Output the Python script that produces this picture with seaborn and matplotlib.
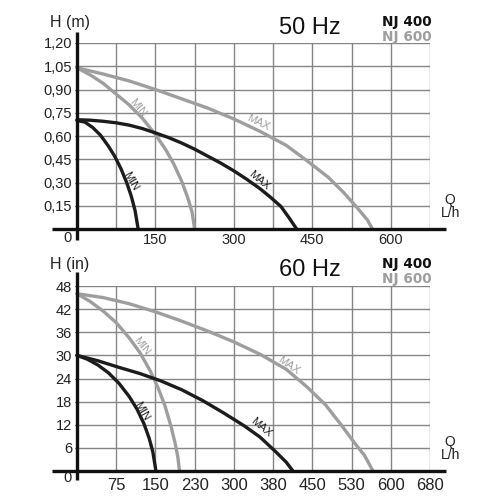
import seaborn as sns
import pandas as pd
import matplotlib
matplotlib.use("Agg")
import matplotlib.pyplot as plt

# ---- data ----
# 50 Hz, head in m
q50_400_min = [0, 15, 30, 45, 60, 72, 84, 95, 104, 111, 117]
h50_400_min = [0.70, 0.69, 0.655, 0.605, 0.535, 0.47, 0.39, 0.30, 0.21, 0.12, 0.0]
q50_400_max = [0, 25, 50, 75, 100, 125, 150, 175, 200, 225, 250, 275, 300,
               325, 350, 370, 390, 405, 420]
h50_400_max = [0.705, 0.702, 0.695, 0.685, 0.67, 0.648, 0.62, 0.59, 0.555,
               0.515, 0.47, 0.425, 0.375, 0.32, 0.26, 0.205, 0.145, 0.075, 0.0]
q50_600_min = [0, 25, 50, 75, 100, 125, 150, 170, 185, 200, 212, 220, 225]
h50_600_min = [1.04, 0.995, 0.94, 0.87, 0.80, 0.715, 0.61, 0.51, 0.42, 0.31,
               0.20, 0.11, 0.0]
q50_600_max = [0, 50, 100, 150, 200, 250, 300, 350, 400, 440, 480, 510, 535,
               555, 565]
h50_600_max = [1.04, 1.0, 0.955, 0.90, 0.84, 0.78, 0.71, 0.63, 0.54, 0.44,
               0.335, 0.235, 0.14, 0.06, 0.0]

# 60 Hz, head in inches
q60_400_min = [0, 20, 40, 60, 80, 100, 115, 128, 138, 145, 151]
h60_400_min = [30, 29.0, 27.5, 25.5, 22.8, 19.3, 16.0, 12.3, 8.5, 5.0, 0]
q60_400_max = [0, 40, 80, 120, 160, 200, 240, 280, 320, 350, 380, 400, 413]
h60_400_max = [30, 28.6, 26.9, 25.3, 23.4, 21.1, 18.3, 15.1, 11.7, 8.8, 5.0,
               2.3, 0]
q60_600_min = [0, 25, 50, 75, 100, 120, 140, 155, 168, 180, 188, 193, 196]
h60_600_min = [46, 44, 41.5, 38.5, 34.5, 30.8, 26, 21.6, 17, 11.5, 7.0, 3.5, 0]
q60_600_max = [0, 50, 100, 150, 200, 250, 300, 350, 400, 440, 475, 505, 530,
               550, 566]
h60_600_max = [46, 45, 43.4, 41.3, 38.9, 36.3, 33.5, 30.3, 26.4, 21.8, 17.2,
               12.0, 7.4, 4.0, 0]

x_grid = [75, 150, 225, 300, 375, 450, 525, 600, 675]
x_labels_50 = ["", "150", "", "300", "", "450", "", "600", ""]
x_labels_60 = ["75", "150", "230", "300", "380", "450", "530", "600", "680"]
y_ticks_50 = [0.15, 0.30, 0.45, 0.60, 0.75, 0.90, 1.05, 1.20]
y_labels_50 = ["0,15", "0,30", "0,45", "0,60", "0,75", "0,90", "1,05", "1,20"]
y_ticks_60 = [6, 12, 18, 24, 30, 36, 42, 48]
y_labels_60 = ["6", "12", "18", "24", "30", "36", "42", "48"]

BLACK = "#1c1c1c"
GRAY = "#9e9e9e"
palette = {"NJ 400 MIN": BLACK, "NJ 400 MAX": BLACK,
           "NJ 600 MIN": GRAY, "NJ 600 MAX": GRAY}


def make_df(parts):
    rows = []
    for name, qs, hs in parts:
        for q, h in zip(qs, hs):
            rows.append({"curve": name, "Q": q, "H": h})
    return pd.DataFrame(rows)


df50 = make_df([("NJ 600 MIN", q50_600_min, h50_600_min),
                ("NJ 600 MAX", q50_600_max, h50_600_max),
                ("NJ 400 MIN", q50_400_min, h50_400_min),
                ("NJ 400 MAX", q50_400_max, h50_400_max)])
df60 = make_df([("NJ 600 MIN", q60_600_min, h60_600_min),
                ("NJ 600 MAX", q60_600_max, h60_600_max),
                ("NJ 400 MIN", q60_400_min, h60_400_min),
                ("NJ 400 MAX", q60_400_max, h60_400_max)])

# curve labels: text, Q, H, angle, colour
labels50 = [("MIN", 117, 0.78, -50, GRAY), ("MAX", 346, 0.69, -26, GRAY),
            ("MIN", 103, 0.31, -60, BLACK), ("MAX", 348, 0.316, -40, BLACK)]
labels60 = [("MIN", 124, 32.4, -52, GRAY), ("MAX", 405, 27.5, -35, GRAY),
            ("MIN", 124, 15.6, -60, BLACK), ("MAX", 352, 11.2, -40, BLACK)]

sns.set_style("white")
plt.rcParams["font.family"] = ["Liberation Sans", "DejaVu Sans"]

fig = plt.figure(figsize=(5, 5), dpi=100)


def px(x, y):
    return x / 500, 1 - y / 500


def panel(ax, df, ytop, yticks, ylabels, xlabels, curve_labels, yaxis_ext, xfs, xpad):
    sns.lineplot(data=df, x="Q", y="H", hue="curve", palette=palette,
                 estimator=None, sort=False, legend=False, linewidth=2.4, ax=ax)
    ax.set_xlim(-3, 675)
    ax.set_ylim(0, ytop)
    ax.set_xticks(x_grid)
    ax.set_xticklabels(xlabels, fontsize=xfs, color="#222222")
    ax.set_yticks(yticks)
    ax.set_yticklabels(ylabels, fontsize=10.5, color="#222222")
    ax.tick_params(length=0)
    ax.tick_params(axis="y", pad=2.5)
    ax.tick_params(axis="x", pad=xpad)
    ax.grid(True, color="#858585", linewidth=1.0)
    ax.set_axisbelow(True)
    for s in ax.spines.values():
        s.set_visible(False)
    ax.set_xlabel("")
    ax.set_ylabel("")
    # thick axes
    ax.plot([-48, 705], [0, 0], color="#111111", lw=2.4, clip_on=False,
            solid_capstyle="butt", zorder=5)
    ax.plot([0, 0], yaxis_ext, color="#111111", lw=2.4, clip_on=False,
            solid_capstyle="butt", zorder=5)
    for txt, q, h, ang, col in curve_labels:
        ax.text(q, h, txt, rotation=ang, rotation_mode="anchor", ha="center",
                va="center", fontsize=8, color=col)


ax1 = fig.add_axes([75.4 / 500, 1 - 229 / 500, (430 - 75.4) / 500, 186 / 500])
panel(ax1, df50, 1.20, y_ticks_50, y_labels_50, x_labels_50, labels50,
      [-0.07, 1.27], 10.5, 3)

ax2 = fig.add_axes([75.4 / 500, 1 - 471 / 500, (430 - 75.4) / 500, 185 / 500])
panel(ax2, df60, 48, y_ticks_60, y_labels_60, x_labels_60, labels60,
      [-2.3, 51.6], 12, 5)

# headings and axis names
for ytop, unit, hz, yq, y0 in [(0, "H (m)", "50 Hz", 200, 238),
                               (242, "H (in)", "60 Hz", 442, 478)]:
    fig.text(*px(50, 23 + ytop), unit, ha="left", va="center", fontsize=11.5,
             color="#222222")
    fig.text(*px(310, 28 + ytop), hz, ha="center", va="center", fontsize=17,
             color="#111111")
    fig.text(*px(432, 22 + ytop), "NJ 400", ha="right", va="center",
             fontsize=9.8, fontweight="bold", color="#111111",
             family=["DejaVu Sans"])
    fig.text(*px(432, 36.5 + ytop), "NJ 600", ha="right", va="center",
             fontsize=9.8, fontweight="bold", color=GRAY,
             family=["DejaVu Sans"])
    fig.text(*px(450, yq), "Q", ha="center", va="center", fontsize=10,
             color="#222222")
    fig.text(*px(451, yq + 13), "L/h", ha="center", va="center", fontsize=10,
             color="#222222")
    fig.text(*px(67, y0), "0", ha="center", va="center", fontsize=10.5,
             color="#222222")

fig.savefig("out.png", dpi=100)
